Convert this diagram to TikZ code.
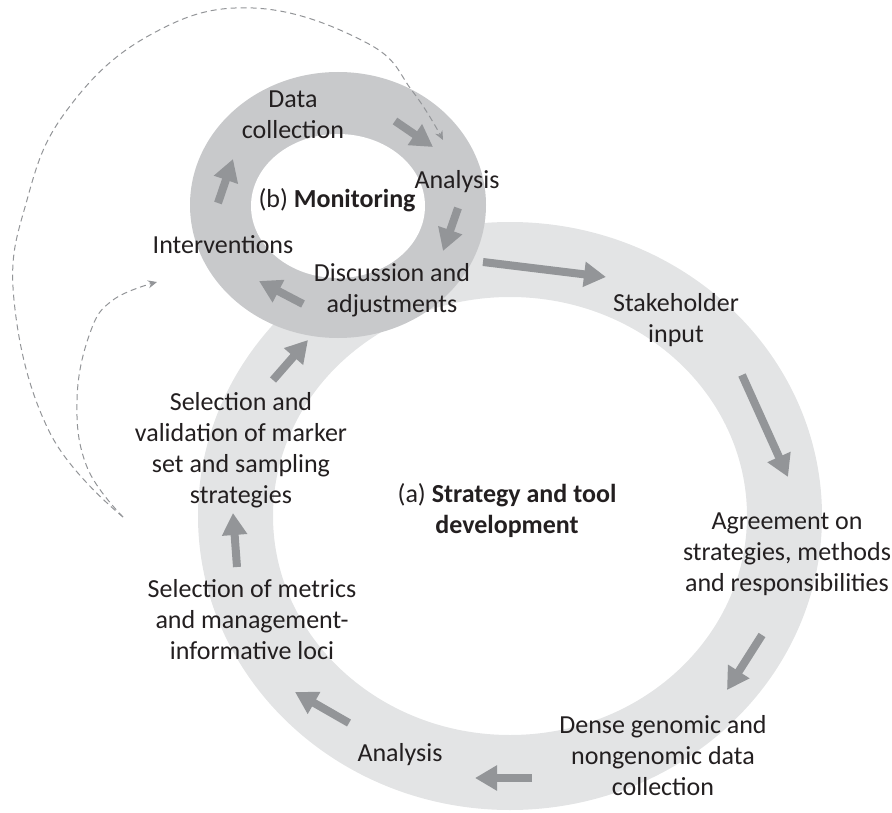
\documentclass[tikz,border=0pt]{standalone}
\usepackage{fontspec}
\setmainfont{Carlito}
\usetikzlibrary{arrows.meta}
\definecolor{ringA}{HTML}{E3E4E5}
\definecolor{ringB}{HTML}{C8C9CB}
\definecolor{arr}{HTML}{939598}
\definecolor{txt}{HTML}{231F20}
\begin{document}
\begin{tikzpicture}[x=1pt, y=-1pt,
  lbl/.style={font=\fontsize{26}{31}\selectfont, align=center, inner sep=0pt, text=txt},
  blockarrow/.style={draw=arr, line width=8pt, -{Triangle[length=22pt,width=24pt]}},
  dashline/.style={draw=arr, line width=1pt, dash pattern=on 6pt off 4pt, -{Stealth[length=9pt,width=8pt]}}]
\useasboundingbox (0,0) rectangle (892,813);
% rings
\fill[ringA, even odd rule] (510,516) ellipse [x radius=312pt, y radius=294pt]
      (510,516) ellipse [x radius=237pt, y radius=219pt];
\fill[ringB] (338,205) ellipse [x radius=148pt, y radius=133pt];
\fill[white] (338,206) ellipse [x radius=87pt, y radius=72pt];
% labels
\node[lbl] (dc) at (293,115) {Data\\collection};
\node[lbl] (an1) at (457,182) {Analysis};
\node[lbl] (mon) at (337,200) {(b) \textbf{Monitoring}};
\node[lbl] (int) at (223,245) {Interventions};
\node[lbl] (dis) at (392,290) {Discussion and\\adjustments};
\node[lbl] (stk) at (676,320) {Stakeholder\\input};
\node[lbl] (str) at (507,511) {(a) \textbf{Strategy and tool}\\\textbf{development}};
\node[lbl] (agr) at (787,554) {Agreement on\\strategies, methods\\and responsibilities};
\node[lbl] (den) at (663,756) {Dense genomic and\\nongenomic data\\collection};
\node[lbl] (an2) at (400,755) {Analysis};
\node[lbl] (selm) at (252,620) {Selection of metrics\\and management-\\informative loci};
\node[lbl] (selv) at (241,450) {Selection and\\validation of marker\\set and sampling\\strategies};
% arrow end points
\coordinate (a1s) at (395,121); \coordinate (a1e) at (433,147);
\coordinate (a2s) at (458,208); \coordinate (a2e) at (443,251);
\coordinate (a3s) at (303,304); \coordinate (a3e) at (259,281);
\coordinate (a4s) at (218,203); \coordinate (a4e) at (233,159);
\coordinate (a5s) at (483,262); \coordinate (a5e) at (606,277);
\coordinate (a6s) at (742,375); \coordinate (a6e) at (788,477);
\coordinate (a7s) at (762,635); \coordinate (a7e) at (727,690);
\coordinate (a8s) at (532,778); \coordinate (a8e) at (475,778);
\coordinate (a9s) at (349,723); \coordinate (a9e) at (295,692);
\coordinate (a10s) at (237,567); \coordinate (a10e) at (233,513);
\coordinate (a11s) at (273,380); \coordinate (a11e) at (308,340);
\foreach \i in {1,...,11} {\draw[blockarrow] (a\i s) -- (a\i e);}
% dashed feedback lines
\coordinate (dstart) at (123,517);
\coordinate (dend1) at (443,140);
\coordinate (dend2) at (157,282);
\draw[dashline] plot[smooth, tension=0.7] coordinates {(dstart) (50,433) (14,300) (27,200) (67,110) (150,35) (253,8) (367,43) (413,92) (dend1)};
\draw[dashline] plot[smooth, tension=0.7] coordinates {(dstart) (87,467) (77,400) (90,333) (113,300) (dend2)};
\end{tikzpicture}
\end{document}
